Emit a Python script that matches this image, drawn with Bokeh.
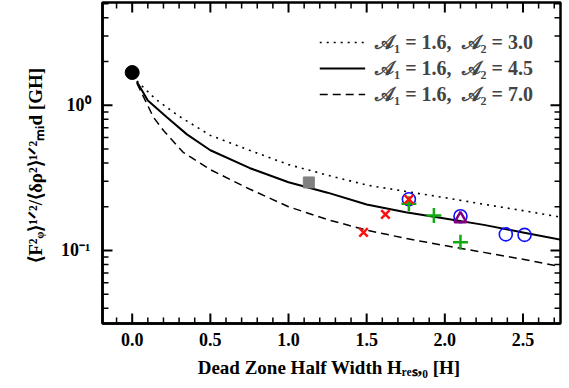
import math
from bokeh.plotting import figure
from bokeh.models import Legend, LegendItem, CustomJSTickFormatter, FixedTicker, NumeralTickFormatter
from bokeh.embed import file_html
from bokeh.resources import INLINE

# Model curves: F_phi amplitude vs. dead zone half width
h_a3 = [0.03, 0.15, 0.3, 0.5, 0.75, 1.0, 1.25, 1.5, 1.75, 2.0, 2.25, 2.5, 2.75]
f_a3 = [1.47, 1.10, 0.84, 0.62, 0.49, 0.39, 0.33, 0.282, 0.255, 0.231, 0.208, 0.188, 0.169]

h_a45 = [0.03, 0.1, 0.22, 0.35, 0.5, 0.75, 1.0, 1.25, 1.5, 1.75, 2.0, 2.25, 2.5, 2.75]
f_a45 = [1.45, 1.08, 0.83, 0.63, 0.49, 0.37, 0.295, 0.25, 0.207, 0.183, 0.166, 0.15, 0.133, 0.118]

h_a7 = [0.03, 0.135, 0.2, 0.326, 0.5, 0.75, 1.0, 1.25, 1.5, 1.75, 2.0, 2.25, 2.5, 2.75]
f_a7 = [1.42, 0.83, 0.67, 0.474, 0.36, 0.265, 0.20, 0.163, 0.138, 0.121, 0.108, 0.097, 0.087, 0.077]

# Simulation results
ideal_h, ideal_f = [0.0], [1.68]
square_h, square_f = [1.13], [0.294]
xmark_h, xmark_f = [1.48, 1.62, 1.77], [0.133, 0.177, 0.225]
plus_h, plus_f = [1.77, 1.93, 2.10], [0.21, 0.174, 0.114]
circ_h, circ_f = [1.77, 2.10, 2.39, 2.51], [0.225, 0.172, 0.129, 0.128]
tri_h, tri_f = [2.10], [0.165]

legend_labels = ["\U0001D49C\u2081 = 1.6,  \U0001D49C\u2082 = 3.0",
                 "\U0001D49C\u2081 = 1.6,  \U0001D49C\u2082 = 4.5",
                 "\U0001D49C\u2081 = 1.6,  \U0001D49C\u2082 = 7.0"]

# Tick positions
x_ticks = [0.0, 0.5, 1.0, 1.5, 2.0, 2.5]
x_minor = [-0.1, 0.1, 0.2, 0.3, 0.4, 0.6, 0.7, 0.8, 0.9, 1.1, 1.2, 1.3, 1.4,
           1.6, 1.7, 1.8, 1.9, 2.1, 2.2, 2.3, 2.4, 2.6, 2.7]
y_ticks = [0.1, 1.0]
y_minor = [0.04, 0.05, 0.06, 0.07, 0.08, 0.09, 0.2, 0.3, 0.4, 0.5, 0.6, 0.7, 0.8, 0.9,
           2.0, 3.0, 4.0, 5.0]

X_LO, X_HI = -0.19, 2.74
Y_LO, Y_HI = 0.0314, 5.1

W, H = 569, 388
B_LEFT, B_RIGHT, B_TOP, B_BOTTOM = 102, 9, 2, 65
FRAME_W = W - B_LEFT - B_RIGHT
FRAME_H = H - B_TOP - B_BOTTOM

SERIF = "Liberation Serif"

p = figure(width=W, height=H, x_range=(X_LO, X_HI), y_range=(Y_LO, Y_HI),
           y_axis_type="log", output_backend="svg", toolbar_location=None,
           min_border_left=B_LEFT, min_border_right=B_RIGHT, min_border_top=B_TOP,
           min_border_bottom=B_BOTTOM)
p.grid.visible = False
p.outline_line_color = "black"
p.outline_line_width = 2.5

r3 = p.line(h_a3, f_a3, line_color="black", line_width=1.6, line_dash="2 5")
r45 = p.line(h_a45, f_a45, line_color="black", line_width=2)
r7 = p.line(h_a7, f_a7, line_color="black", line_width=1.5, line_dash="8 5")

p.scatter(ideal_h, ideal_f, marker="circle", size=14, fill_color="black", line_color="black")
p.scatter(square_h, square_f, marker="square", size=11, fill_color="#808080", line_color="#808080")
p.scatter(circ_h, circ_f, marker="circle", size=13, fill_color=None, line_color="#1010ff", line_width=1.6)
p.scatter(plus_h, plus_f, marker="cross", size=15, line_color="#11aa11", line_width=2.5)
p.scatter(xmark_h, xmark_f, marker="x", size=12, line_color="#ff1010", line_width=2.5)
p.scatter(tri_h, tri_f, marker="triangle", size=12, fill_color=None, line_color="#800080", line_width=2.5)


# Inward ticks on all four sides: dash markers whose centres sit half a tick
# length inside the frame edge.
def x_edge_ticks(ticks, length_px, lw):
    fac = (Y_HI / Y_LO) ** (0.5 * length_px / FRAME_H)
    n = len(ticks)
    for yy in (Y_LO * fac, Y_HI / fac):
        p.scatter(ticks, [yy] * n, marker="dash", size=length_px, angle=math.pi / 2,
                  line_color="black", line_width=lw)


def y_edge_ticks(ticks, length_px, lw):
    dx = 0.5 * (X_HI - X_LO) * length_px / FRAME_W
    n = len(ticks)
    for xx in (X_LO + dx, X_HI - dx):
        p.scatter([xx] * n, ticks, marker="dash", size=length_px,
                  line_color="black", line_width=lw)


x_edge_ticks(x_ticks, 10, 2)
x_edge_ticks(x_minor, 6, 1.5)
y_edge_ticks(y_ticks, 10, 2)
y_edge_ticks(y_minor, 6, 1.5)

legend = Legend(items=[LegendItem(label=legend_labels[0], renderers=[r3]),
                       LegendItem(label=legend_labels[1], renderers=[r45]),
                       LegendItem(label=legend_labels[2], renderers=[r7])],
                location="top_right", border_line_color=None, background_fill_alpha=0,
                label_text_font=SERIF, label_text_font_style="bold", label_text_font_size="20px",
                glyph_width=46, glyph_height=26, label_height=26, spacing=0, padding=0,
                margin=27, label_standoff=10)
p.add_layout(legend)

pow_fmt = CustomJSTickFormatter(code="""
const sup = {'-':'\u207b','0':'\u2070','1':'\u00b9','2':'\u00b2','3':'\u00b3','4':'\u2074',
             '5':'\u2075','6':'\u2076','7':'\u2077','8':'\u2078','9':'\u2079'};
const e = Math.round(Math.log10(tick));
return '10' + String(e).split('').map(c => sup[c]).join('');
""")


def style_axis(ax):
    ax.axis_line_width = 2.5
    ax.major_tick_in = 0
    ax.major_tick_out = 0
    ax.minor_tick_in = 0
    ax.minor_tick_out = 0
    ax.major_label_text_font = SERIF
    ax.major_label_text_font_style = "bold"
    ax.major_label_text_font_size = "18px"
    ax.major_label_text_color = "black"
    ax.axis_label_text_font = SERIF
    ax.axis_label_text_font_style = "bold"
    ax.axis_label_text_font_size = "19px"
    ax.axis_label_text_color = "black"


xax = p.xaxis[0]
xax.ticker = FixedTicker(ticks=x_ticks)
xax.formatter = NumeralTickFormatter(format="0.0")
xax.axis_label = "Dead Zone Half Width  H\u1d63\u2091\u209b,\u2080 [H]"
style_axis(xax)
xax.major_label_standoff = 9
xax.axis_label_standoff = 8

yax = p.yaxis[0]
yax.ticker = FixedTicker(ticks=y_ticks)
yax.formatter = pow_fmt
yax.axis_label = "\u27e8F\u00b2\u1d69\u27e9\u00b9\u141f\u00b2/\u27e8\u03b4\u03c1\u00b2\u27e9\u00b9\u141f\u00b2\u2098\u1d62d  [GH]"
style_axis(yax)
yax.major_label_standoff = 12
yax.axis_label_standoff = 12

open("out.html", "w").write(file_html(p, INLINE))
